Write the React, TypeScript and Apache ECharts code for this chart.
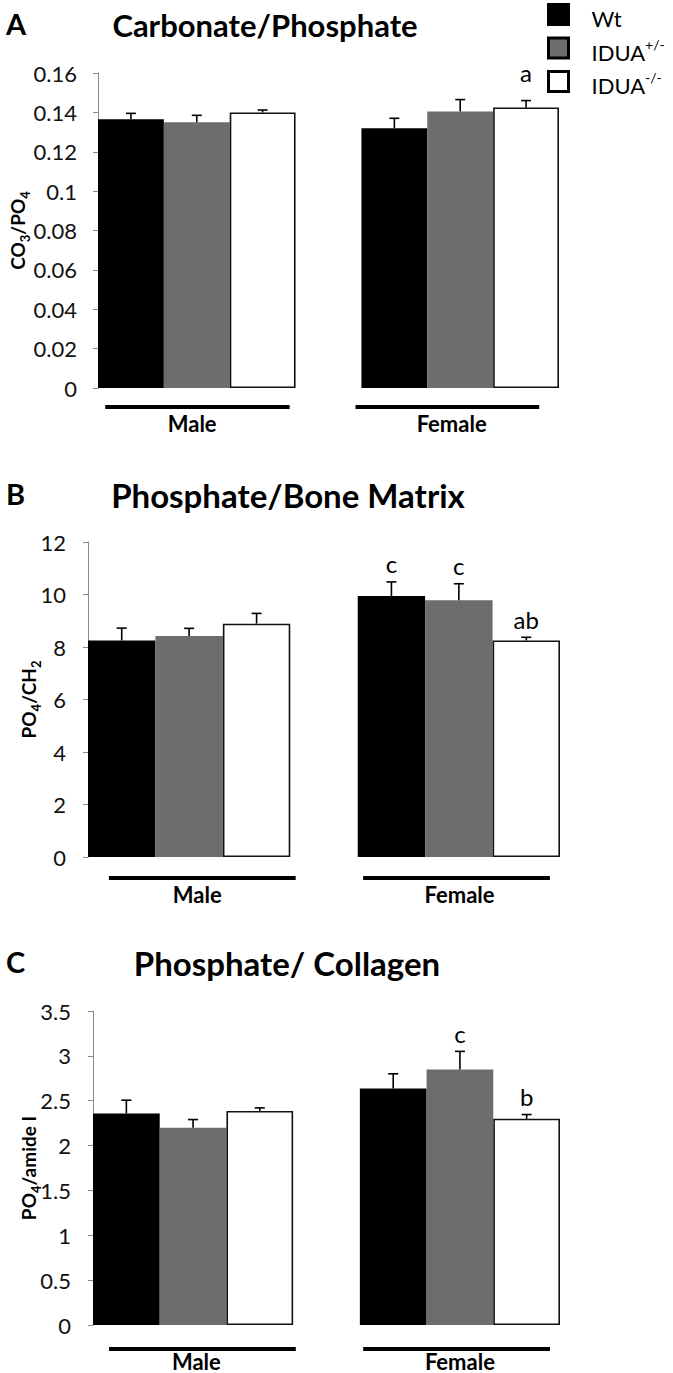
import React, { useEffect, useRef } from "react";
import * as echarts from "echarts";

// ---------- data ----------
const genotypes = ["Wt", "IDUA+/-", "IDUA-/-"];
const sexes = ["Male", "Female"];

// Panel A: Carbonate/Phosphate (CO3/PO4), values [Male, Female]
const carbWt = [0.1365, 0.132];
const carbHet = [0.135, 0.1405];
const carbKo = [0.14, 0.1425];
const carbWtErr = [0.003, 0.005];
const carbHetErr = [0.0035, 0.006];
const carbKoErr = [0.0012, 0.0035];
const carbLetters = [["", ""], ["", ""], ["", "a"]];
const carbTicks = { min: 0, max: 0.16, interval: 0.02 };

// Panel B: Phosphate/Bone Matrix (PO4/CH2)
const matWt = [8.25, 9.94];
const matHet = [8.42, 9.78];
const matKo = [8.89, 8.25];
const matWtErr = [0.47, 0.54];
const matHetErr = [0.29, 0.63];
const matKoErr = [0.39, 0.12];
const matLetters = [["", "c"], ["", "c"], ["", "ab"]];
const matTicks = { min: 0, max: 12, interval: 2 };

// Panel C: Phosphate/ Collagen (PO4/amide I)
const colWt = [2.357, 2.636];
const colHet = [2.2, 2.847];
const colKo = [2.386, 2.3];
const colWtErr = [0.149, 0.164];
const colHetErr = [0.09, 0.203];
const colKoErr = [0.034, 0.046];
const colLetters = [["", ""], ["", "c"], ["", "b"]];
const colTicks = { min: 0, max: 3.5, interval: 0.5 };

// ---------- layout / style ----------
const FONT = "Lato";
const colors = ["#000000", "#6d6d6d", "#ffffff"];

const panels = [
  {
    letter: "A",
    title: "Carbonate/Phosphate",
    titleSize: 31,
    titleX: 265,
    titleY: 25,
    letterY: 25,
    yName: "{n|CO}{s|3}{n|/PO}{s|4}",
    ticks: carbTicks,
    means: [carbWt, carbHet, carbKo],
    errs: [carbWtErr, carbHetErr, carbKoErr],
    letters: carbLetters,
    letterDy: 28,
    grid: { left: 91, top: 73, width: 468, height: 315 },
    nameGap: 71,
    labelMargin: 21,
    lineDy: 19,
    textDy: 35,
    spans: [[0.11, 2.91], [3.91, 6.7]],
    labelPos: [1.43, 5.37],
  },
  {
    letter: "B",
    title: "Phosphate/Bone Matrix",
    titleSize: 33,
    titleX: 288,
    titleY: 495,
    letterY: 495,
    yName: "{n|PO}{s|4}{n|/CH}{s|2}",
    ticks: matTicks,
    means: [matWt, matHet, matKo],
    errs: [matWtErr, matHetErr, matKoErr],
    letters: matLetters,
    letterDy: 18,
    grid: { left: 88, top: 542, width: 472, height: 315 },
    nameGap: 50,
    labelMargin: 22,
    lineDy: 21,
    textDy: 37,
    spans: [[0.31, 3.08], [4.08, 6.85]],
    labelPos: [1.62, 5.51],
  },
  {
    letter: "C",
    title: "Phosphate/ Collagen",
    titleSize: 33,
    titleX: 287,
    titleY: 963,
    letterY: 963,
    yName: "{n|PO}{s|4}{n|/amide I}",
    ticks: colTicks,
    means: [colWt, colHet, colKo],
    errs: [colWtErr, colHetErr, colKoErr],
    letters: colLetters,
    letterDy: 18,
    grid: { left: 93, top: 1011, width: 467, height: 314 },
    nameGap: 55,
    labelMargin: 22,
    lineDy: 24,
    textDy: 36,
    spans: [[0.24, 3.04], [4.05, 6.85]],
    labelPos: [1.55, 5.5],
  },
];

// slot layout: Male (Wt, Het, KO), spacer, Female (Wt, Het, KO)
const slotNames: string[] = [];
sexes.forEach((s, si) => {
  genotypes.forEach((g) => slotNames.push(s + " " + g));
  if (si < sexes.length - 1) slotNames.push("");
});
const slotOf = (g: number, s: number) => s * (genotypes.length + 1) + g;

function buildOption() {
  const grid: any[] = [];
  const xAxis: any[] = [];
  const yAxis: any[] = [];
  const series: any[] = [];
  const graphic: any[] = [];

  panels.forEach((p, pi) => {
    grid.push({ ...p.grid, containLabel: false });
    xAxis.push({
      type: "category",
      gridIndex: pi,
      data: slotNames,
      axisLine: { show: false },
      axisTick: { show: false },
      axisLabel: { show: false },
    });
    yAxis.push({
      type: "value",
      gridIndex: pi,
      min: p.ticks.min,
      max: p.ticks.max,
      interval: p.ticks.interval,
      splitLine: { show: false },
      axisLine: { show: true, lineStyle: { color: "#8a8a8a", width: 1 } },
      axisTick: { show: true, length: 5, lineStyle: { color: "#8a8a8a" } },
      axisLabel: { color: "#111", fontSize: 22, fontFamily: FONT, margin: p.labelMargin },
      name: p.yName,
      nameLocation: "middle",
      nameRotate: 90,
      nameGap: p.nameGap,
      nameMoveOverlap: false,
      nameTextStyle: {
        fontFamily: FONT,
        rich: {
          n: { fontSize: 19, fontWeight: "bold", color: "#000", fontFamily: FONT, lineHeight: 19, verticalAlign: "top" },
          s: { fontSize: 13, fontWeight: "bold", color: "#000", fontFamily: FONT, lineHeight: 13, verticalAlign: "top", padding: [10, 0, 0, 0] },
        },
      },
    });

    genotypes.forEach((g, gi) => {
      const data = slotNames.map(() => null as any);
      sexes.forEach((_, si) => {
        data[slotOf(gi, si)] = p.means[gi][si];
      });
      series.push({
        type: "bar",
        name: g,
        xAxisIndex: pi,
        yAxisIndex: pi,
        data,
        barWidth: "100%",
        barGap: "-100%",
        itemStyle: {
          color: colors[gi],
          borderColor: gi === 2 ? "#111" : colors[gi],
          borderWidth: gi === 2 ? 1.6 : 0,
        },
      });
    });

    // error bars + significance letters
    const errItems: any[] = [];
    const errLetters: string[] = [];
    genotypes.forEach((_, gi) => {
      sexes.forEach((__, si) => {
        errItems.push([slotOf(gi, si), p.means[gi][si], p.errs[gi][si]]);
        errLetters.push(p.letters[gi][si]);
      });
    });
    series.push({
      type: "custom",
      name: "err" + pi,
      xAxisIndex: pi,
      yAxisIndex: pi,
      data: errItems,
      z: 5,
      clip: false,
      renderItem: (params: any, api: any) => {
        const x = api.value(0);
        const m = api.value(1);
        const e = api.value(2);
        const p0 = api.coord([x, m]);
        const p1 = api.coord([x, m + e]);
        const children: any[] = [
          { type: "line", shape: { x1: p0[0], y1: p0[1], x2: p1[0], y2: p1[1] }, style: { stroke: "#000", lineWidth: 1.6 } },
          { type: "line", shape: { x1: p1[0] - 5, y1: p1[1], x2: p1[0] + 5, y2: p1[1] }, style: { stroke: "#000", lineWidth: 1.6 } },
        ];
        const L = errLetters[params.dataIndex];
        if (L) {
          children.push({
            type: "text",
            style: { text: L, x: p1[0], y: p1[1] - p.letterDy, align: "center", verticalAlign: "middle", font: `24px ${FONT}`, fill: "#000" },
          });
        }
        return { type: "group", children };
      },
    });

    // group underline + label
    series.push({
      type: "custom",
      name: "grp" + pi,
      xAxisIndex: pi,
      yAxisIndex: pi,
      data: sexes.map((_, si) => [si, 0]),
      clip: false,
      renderItem: (params: any, api: any) => {
        const si = params.dataIndex;
        const c0 = api.coord([0, 0]);
        const w = api.size([1, 0])[0];
        const start = c0[0] - w / 2;
        const base = c0[1];
        const span = p.spans[si];
        return {
          type: "group",
          children: [
            {
              type: "line",
              shape: { x1: start + span[0] * w, y1: base + p.lineDy, x2: start + span[1] * w, y2: base + p.lineDy },
              style: { stroke: "#000", lineWidth: 4 },
            },
            {
              type: "text",
              style: {
                text: sexes[si],
                x: start + p.labelPos[si] * w,
                y: base + p.textDy,
                align: "center",
                verticalAlign: "middle",
                font: `bold 22px ${FONT}`,
                fill: "#000",
              },
            },
          ],
        };
      },
    });

    graphic.push({
      type: "text",
      left: 6,
      top: p.letterY - 16,
      style: { text: p.letter, font: `bold 29px ${FONT}`, fill: "#000" },
    });
    graphic.push({
      type: "text",
      x: p.titleX,
      y: p.titleY,
      style: { text: p.title, font: `bold ${p.titleSize}px ${FONT}`, fill: "#000", align: "center", verticalAlign: "middle" },
    });
  });

  const legendFmt = (name: string) => {
    if (name === "Wt") return "{n|Wt}";
    const sup = name.replace("IDUA", "");
    return "{n|IDUA}{p|" + sup + "}";
  };

  return {
    animation: false,
    textStyle: { fontFamily: FONT },
    grid,
    xAxis,
    yAxis,
    series,
    graphic,
    legend: {
      data: genotypes,
      orient: "vertical",
      left: 547,
      top: 3,
      padding: 0,
      itemWidth: 20,
      itemHeight: 20,
      itemGap: 7,
      icon: "rect",
      itemStyle: { borderColor: "#000", borderWidth: 3 },
      formatter: legendFmt,
      textStyle: {
        padding: [0, 0, 0, 18],
        rich: {
          n: { fontSize: 22, fontFamily: FONT, color: "#000", lineHeight: 22, padding: [4, 0, 0, 0], verticalAlign: "top" },
          p: { fontSize: 14, fontFamily: FONT, color: "#000", lineHeight: 14, verticalAlign: "top" },
        },
      },
    },
  };
}

export default function App() {
  const ref = useRef<HTMLDivElement>(null);
  useEffect(() => {
    if (!ref.current) return;
    const chart = echarts.init(ref.current, undefined, { renderer: "svg" });
    chart.setOption(buildOption() as any);
    return () => chart.dispose();
  }, []);
  return (
    <div
      ref={ref}
      style={{ position: "absolute", left: 0, top: 0, width: 673, height: 1373, background: "#fff" }}
    />
  );
}
